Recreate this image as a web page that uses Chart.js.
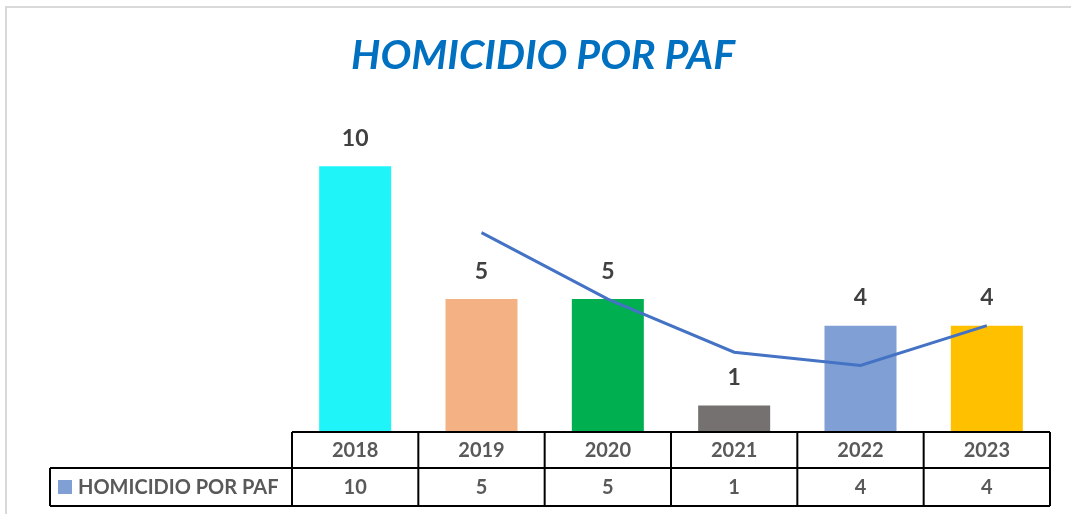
<!DOCTYPE html>
<html>
<head>
  <meta charset="utf-8">
  <script src="https://cdn.jsdelivr.net/npm/chart.js@4.4.0/dist/chart.umd.min.js"></script>
  <style>
    html, body { margin: 0; padding: 0; background: #fff; }
    #wrap { width: 1071px; height: 514px; }
  </style>
  <title>HOMICIDIO POR PAF</title>
</head>
<body>
  <div id="wrap"><canvas id="chart"></canvas></div>

  <script>
    // data
    const years = ["2018", "2019", "2020", "2021", "2022", "2023"];
    const homicidios = [10, 5, 5, 1, 4, 4];
    // 2-period moving average line
    const tendencia = [null, 7.5, 5, 3, 2.5, 4];
    const barColors = ["#1ff5f9", "#f4b183", "#00b050", "#767171", "#7f9fd5", "#ffc000"];
    const seriesName = "HOMICIDIO POR PAF";
    const chartTitle = "HOMICIDIO POR PAF";
    const legendColor = "#7f9fd5";

    // gray frame line on top / left, plus the title
    const framePlugin = {
      id: "frame",
      beforeDraw(chart) {
        const ctx = chart.ctx;
        ctx.save();
        ctx.strokeStyle = "#d9d9d9";
        ctx.lineWidth = 2;
        ctx.beginPath();
        ctx.moveTo(6, 514);
        ctx.lineTo(6, 7);
        ctx.lineTo(1071, 7);
        ctx.stroke();
        ctx.font = "italic bold 41px Lato";
        ctx.fillStyle = "#0070c0";
        ctx.textAlign = "center";
        ctx.textBaseline = "middle";
        ctx.fillText(chartTitle, 543, 56);
        ctx.restore();
      }
    };

    // numbers over the bars
    const labelPlugin = {
      id: "barLabels",
      afterDatasetsDraw(chart) {
        const ctx = chart.ctx;
        const meta = chart.getDatasetMeta(1);
        ctx.save();
        ctx.font = "bold 23px Lato";
        ctx.fillStyle = "#404040";
        ctx.textAlign = "center";
        ctx.textBaseline = "middle";
        meta.data.forEach((bar, i) => {
          ctx.fillText(String(homicidios[i]), bar.x, bar.y - 28);
        });
        ctx.restore();
      }
    };

    // data table under the plot
    const tablePlugin = {
      id: "dataTable",
      afterDraw(chart) {
        const ctx = chart.ctx;
        const area = chart.chartArea;
        const xs = chart.scales.x;
        const colW = (area.right - area.left) / years.length;
        const top = area.bottom, mid = area.bottom + 36, bottom = area.bottom + 74;
        const legendLeft = 50;
        ctx.save();
        ctx.font = "bold 20px Lato";
        ctx.fillStyle = "#595959";
        ctx.textAlign = "center";
        ctx.textBaseline = "middle";
        years.forEach((y, i) => {
          const cx = xs.getPixelForValue(i);
          ctx.fillText(y, cx, (top + mid) / 2 + 1);
          ctx.fillText(String(homicidios[i]), cx, (mid + bottom) / 2 + 1);
        });
        // legend cell
        ctx.fillStyle = legendColor;
        ctx.fillRect(legendLeft + 8, (mid + bottom) / 2 - 7, 14, 14);
        ctx.fillStyle = "#595959";
        ctx.textAlign = "left";
        ctx.fillText(seriesName, legendLeft + 28, (mid + bottom) / 2 + 1);

        ctx.strokeStyle = "#000";
        ctx.lineWidth = 2;
        ctx.beginPath();
        ctx.moveTo(area.left, top); ctx.lineTo(area.right, top);
        ctx.moveTo(legendLeft, mid); ctx.lineTo(area.right, mid);
        ctx.moveTo(legendLeft, bottom); ctx.lineTo(area.right, bottom);
        ctx.moveTo(legendLeft, mid); ctx.lineTo(legendLeft, bottom);
        for (let i = 0; i <= years.length; i++) {
          const x = area.left + i * colW;
          ctx.moveTo(x, top); ctx.lineTo(x, bottom);
        }
        ctx.stroke();
        ctx.restore();
      }
    };

    new Chart(document.getElementById("chart"), {
      data: {
        labels: years,
        datasets: [
          {
            type: "line",
            label: "Tendencia",
            data: tendencia,
            borderColor: "#4472c4",
            borderWidth: 3,
            pointRadius: 0,
            tension: 0,
            order: 0
          },
          {
            type: "bar",
            label: seriesName,
            data: homicidios,
            backgroundColor: barColors,
            categoryPercentage: 1,
            barPercentage: 0.57,
            order: 1
          }
        ]
      },
      options: {
        responsive: true,
        maintainAspectRatio: false,
        animation: false,
        layout: { padding: { left: 292, right: 21, top: 113, bottom: 82 } },
        scales: {
          x: { display: false },
          y: { display: false, min: 0, max: 12 }
        },
        plugins: {
          legend: { display: false },
          tooltip: { enabled: false },
          title: { display: false }
        }
      },
      plugins: [framePlugin, labelPlugin, tablePlugin]
    });
  </script>
</body>
</html>
